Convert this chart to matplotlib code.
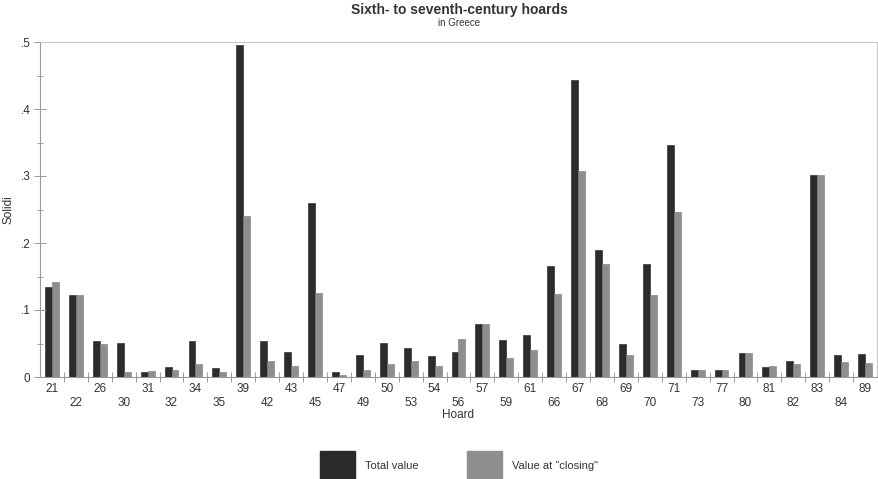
import numpy as np
import matplotlib.pyplot as plt
from matplotlib.patches import Patch

plt.rcParams['font.family'] = ['Liberation Sans', 'DejaVu Sans']

# hoard numbers and values (solidi)
hoards = ['21', '22', '26', '30', '31', '32', '34', '35', '39', '42', '43', '45',
          '47', '49', '50', '53', '54', '56', '57', '59', '61', '66', '67', '68',
          '69', '70', '71', '73', '77', '80', '81', '82', '83', '84', '89']
total_value = [0.135, 0.123, 0.054, 0.051, 0.008, 0.015, 0.053, 0.013, 0.495, 0.054,
               0.038, 0.260, 0.007, 0.033, 0.051, 0.043, 0.032, 0.037, 0.079, 0.055,
               0.063, 0.166, 0.443, 0.190, 0.049, 0.169, 0.347, 0.011, 0.011, 0.036,
               0.015, 0.024, 0.301, 0.033, 0.035]
closing_value = [0.142, 0.123, 0.049, 0.008, 0.009, 0.011, 0.019, 0.008, 0.241, 0.024,
                 0.017, 0.126, 0.003, 0.011, 0.019, 0.024, 0.017, 0.057, 0.079, 0.029,
                 0.040, 0.124, 0.308, 0.168, 0.033, 0.122, 0.246, 0.011, 0.011, 0.036,
                 0.016, 0.019, 0.301, 0.022, 0.021]
y_ticks = [0, 0.1, 0.2, 0.3, 0.4, 0.5]
y_tick_labels = ['0', '.1', '.2', '.3', '.4', '.5']

dark = '#2b2b2b'
grey = '#8e8e8e'
axcol = '#9a9a9a'
txt = '#333333'

fig = plt.figure(figsize=(8.79, 4.79), dpi=100)
ax = fig.add_axes([40 / 879, 102 / 479, 837 / 879, 335 / 479])

x = np.arange(len(hoards))
w = 0.29
ax.bar(x - w / 2, total_value, w, color=dark, edgecolor='#1a1a1a', linewidth=0.4)
ax.bar(x + w / 2, closing_value, w, color=grey, edgecolor='#7a7a7a', linewidth=0.4)

ax.set_xlim(-0.5, len(hoards) - 0.5)
ax.set_ylim(0, 0.5)

# alternate labels on two rows
labels = [h if i % 2 == 0 else '\n' + h for i, h in enumerate(hoards)]
ax.set_xticks(x)
ax.set_xticklabels(labels, fontsize=8.5, color=txt, linespacing=1.3)
ax.tick_params(axis='x', which='major', length=0, pad=4)
ax.set_xticks(x[:-1] + 0.5, minor=True)
ax.tick_params(axis='x', which='minor', direction='inout', length=7, color=axcol, width=0.7)

ax.set_yticks(y_ticks)
ax.set_yticklabels(y_tick_labels, fontsize=8.5, color=txt)
ax.set_yticks(np.arange(0.05, 0.5, 0.1), minor=True)
ax.tick_params(axis='y', which='major', direction='inout', length=8, color=axcol, width=0.7, pad=3)
ax.tick_params(axis='y', which='minor', direction='inout', length=5, color=axcol, width=0.7)

for s in ax.spines.values():
    s.set_color('#c8c8c8')
    s.set_linewidth(0.8)
ax.spines['left'].set_color(axcol)
ax.spines['bottom'].set_color(axcol)

ax.set_ylabel('Solidi', fontsize=8.5, color=txt, labelpad=4)
ax.set_xlabel('Hoard', fontsize=8.5, color=txt, labelpad=0)

fig.text(459 / 879, 1 - 10 / 479, 'Sixth- to seventh-century hoards', ha='center', va='center',
         fontsize=10, fontweight='bold', color=txt)
fig.text(459 / 879, 1 - 23 / 479, 'in Greece', ha='center', va='center', fontsize=7, color=txt)

handles = [Patch(facecolor=dark, edgecolor=dark), Patch(facecolor=grey, edgecolor=grey)]
fig.legend(handles, ['Total value', 'Value at "closing"'], loc='upper center',
           bbox_to_anchor=(459 / 879, 1 - 445 / 479), ncol=2, frameon=False,
           fontsize=8, handlelength=3.2, handleheight=3.9, handletextpad=0.9,
           columnspacing=4.3, borderpad=0, labelcolor=txt)

fig.savefig('out.png', dpi=100)
